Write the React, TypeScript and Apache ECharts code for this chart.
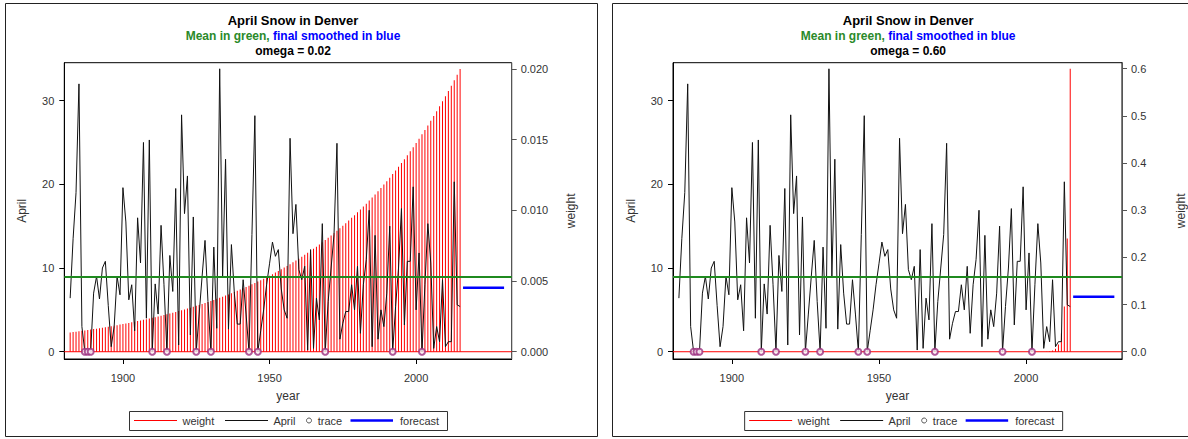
import React, { useEffect, useRef } from "react";
import * as echarts from "echarts";

// ---------- data ----------
const START_YEAR = 1882;

// April snowfall (inches), 1882 .. 2015
const april = [
  // 1882-1889
  6.4, 13.5, 19.0, 32.0, 3.0, 0, 0, 0,
  // 1890s
  7.0, 9.0, 6.3, 10.0, 10.8, 5.5, 0.6, 3.0, 9.0, 6.8,
  // 1900s
  19.6, 15.5, 6.2, 8.0, 2.5, 16.0, 10.6, 25.0, 4.0, 25.3,
  // 1910s
  0, 8.1, 4.5, 15.1, 8.0, 0, 11.5, 7.2, 19.5, 0.8,
  // 1920s
  28.3, 16.5, 21.0, 2.0, 16.1, 0, 4.5, 9.0, 13.3, 6.0,
  // 1930s
  0, 12.5, 2.8, 33.8, 9.0, 23.0, 2.7, 12.8, 7.0, 3.3,
  // 1940s
  3.3, 8.6, 4.5, 0, 14.0, 28.2, 0, 2.5, 5.0, 8.0,
  // 1950s
  10.5, 13.1, 11.4, 12.2, 7.5, 5.0, 4.0, 25.5, 14.1, 17.6,
  // 1960s
  9.8, 8.6, 10.2, 0.2, 12.2, 0.4, 6.4, 3.8, 15.3, 0,
  // 1970s
  6.0, 10.0, 14.0, 24.9, 1.5, 3.4, 4.8, 4.8, 8.0, 5.0,
  // 1980s
  10.2, 2.2, 8.0, 11.0, 16.9, 0.6, 13.9, 1.5, 5.0, 3.0,
  // 1990s
  7.0, 15.0, 0, 5.4, 10.0, 17.1, 3.2, 10.8, 10.8, 19.7,
  // 2000s
  5.0, 11.8, 0, 8.0, 15.3, 10.6, 0.4, 3.0, 1.2, 8.6,
  // 2010-2015
  0.6, 1.2, 1.2, 20.3, 5.6, 5.4,
];

// years with zero snowfall (trace markers)
const traceYears = [1887, 1888, 1889, 1910, 1915, 1925, 1930, 1943, 1946, 1969, 1992, 2002];

// weights for omega = 0.02, 1882 .. 2015
const weights002 = [
  0.001362, 0.00139, 0.001418, 0.001447, 0.001476, 0.001506, 0.001537, 0.001569, 0.001601, 0.001633,
  0.001667, 0.001701, 0.001735, 0.001771, 0.001807, 0.001844, 0.001881, 0.00192, 0.001959, 0.001999,
  0.00204, 0.002081, 0.002124, 0.002167, 0.002212, 0.002257, 0.002303, 0.00235, 0.002398, 0.002447,
  0.002497, 0.002547, 0.002599, 0.002652, 0.002707, 0.002762, 0.002818, 0.002876, 0.002935, 0.002995,
  0.003056, 0.003118, 0.003182, 0.003247, 0.003313, 0.00338, 0.003449, 0.00352, 0.003592, 0.003665,
  0.00374, 0.003816, 0.003894, 0.003973, 0.004054, 0.004137, 0.004222, 0.004308, 0.004396, 0.004485,
  0.004577, 0.00467, 0.004766, 0.004863, 0.004962, 0.005063, 0.005167, 0.005272, 0.00538, 0.005489,
  0.005601, 0.005716, 0.005832, 0.005951, 0.006073, 0.006197, 0.006323, 0.006452, 0.006584, 0.006718,
  0.006855, 0.006995, 0.007138, 0.007284, 0.007432, 0.007584, 0.007739, 0.007897, 0.008058, 0.008223,
  0.00839, 0.008562, 0.008736, 0.008914, 0.009096, 0.009282, 0.009471, 0.009665, 0.009862, 0.010063,
  0.010268, 0.010478, 0.010692, 0.01091, 0.011133, 0.01136, 0.011591, 0.011828, 0.012069, 0.012316,
  0.012567, 0.012823, 0.013085, 0.013352, 0.013625, 0.013903, 0.014186, 0.014476, 0.014771, 0.015073,
  0.01538, 0.015694, 0.016015, 0.016341, 0.016675, 0.017015, 0.017363, 0.017717, 0.018078, 0.018447,
  0.018824, 0.019208, 0.0196, 0.02,
];

// weights for omega = 0.60 (only the visible, non-negligible ones)
const weights060Years = [2006, 2007, 2008, 2009, 2010, 2011, 2012, 2013, 2014, 2015];
const weights060 = [0.00016, 0.00039, 0.00098, 0.00246, 0.00614, 0.01536, 0.0384, 0.096, 0.24, 0.6];

const meanApril = 8.9;
const forecastYears = [2016, 2030];
const forecast002 = 7.65;
const forecast060 = 6.57;

const xTicks = [1900, 1950, 2000];
const yTicks = [0, 10, 20, 30];
const wTicks002 = [0, 0.005, 0.01, 0.015, 0.02];
const wTicks060 = [0, 0.1, 0.2, 0.3, 0.4, 0.5, 0.6];

// ---------- layout ----------
const FONT = '"Liberation Sans", Arial, Helvetica, sans-serif';
const GRID_TOP = 62.7;
const GRID_H = 296.3;
const X_MIN = 1880;
const X_MAX = 2032.6;
const Y_MIN = -0.87;
const Y_MAX = 34.53;

const panels = [
  {
    left: 64.3,
    width: 447.4,
    omega: "0.02",
    wYears: april.map((_, i) => START_YEAR + i),
    wVals: weights002,
    wMin: -0.000515,
    wMax: 0.02045,
    wTicks: wTicks002,
    wDigits: 3,
    forecast: forecast002,
    border: { x: 5.5, y: 3.5, w: 592, h: 433 },
  },
  {
    left: 673,
    width: 460.3,
    omega: "0.60",
    wYears: weights060Years,
    wVals: weights060,
    wMin: -0.0154,
    wMax: 0.6127,
    wTicks: wTicks060,
    wDigits: 1,
    forecast: forecast060,
    border: { x: 612.5, y: 3.5, w: 620, h: 433 },
  },
];

function buildOption() {
  const grid: any[] = [];
  const xAxis: any[] = [];
  const yAxis: any[] = [];
  const series: any[] = [];
  const title: any[] = [];
  const graphic: any[] = [];
  const labelColor = "#333";

  panels.forEach((p, pi) => {
    const cx = p.left + p.width / 2;
    grid.push({
      left: p.left,
      top: GRID_TOP,
      width: p.width,
      height: GRID_H,
      show: true,
      borderColor: "#000",
      borderWidth: 1,
      backgroundColor: "transparent",
    });
    xAxis.push({
      gridIndex: pi,
      type: "value",
      min: X_MIN,
      max: X_MAX,
      name: "year",
      nameLocation: "middle",
      nameGap: 31,
      nameTextStyle: { fontFamily: FONT, fontSize: 12, color: labelColor },
      axisLine: { show: true, onZero: false, lineStyle: { color: "#000", width: 1 } },
      axisTick: { show: true, length: 5, inside: false, customValues: xTicks, lineStyle: { color: "#000" } },
      axisLabel: {
        customValues: xTicks,
        margin: 13,
        fontFamily: FONT,
        fontSize: 11,
        color: labelColor,
        formatter: (v: number) => String(Math.round(v)),
      },
      splitLine: { show: false },
    });
    yAxis.push({
      gridIndex: pi,
      type: "value",
      position: "left",
      min: Y_MIN,
      max: Y_MAX,
      name: "April",
      nameLocation: "middle",
      nameRotate: 90,
      nameGap: 36,
      nameTextStyle: { fontFamily: FONT, fontSize: 12, color: labelColor },
      axisLine: { show: true, onZero: false, lineStyle: { color: "#000", width: 1 } },
      axisTick: { show: true, length: 5, customValues: yTicks, lineStyle: { color: "#000" } },
      axisLabel: { customValues: yTicks, margin: 10, fontFamily: FONT, fontSize: 11, color: labelColor },
      splitLine: { show: false },
    });
    yAxis.push({
      gridIndex: pi,
      type: "value",
      position: "right",
      min: p.wMin,
      max: p.wMax,
      name: "weight",
      nameLocation: "middle",
      nameRotate: 90,
      nameGap: 53,
      nameTextStyle: { fontFamily: FONT, fontSize: 12, color: labelColor },
      axisLine: { show: true, onZero: false, lineStyle: { color: "#555", width: 1 } },
      axisTick: { show: true, length: 5, customValues: p.wTicks, lineStyle: { color: "#555" } },
      axisLabel: {
        customValues: p.wTicks,
        margin: 9,
        fontFamily: FONT,
        fontSize: 11,
        color: labelColor,
        formatter: (v: number) => v.toFixed(p.wDigits),
      },
      splitLine: { show: false },
    });

    const yLeft = pi * 2;
    const yRight = pi * 2 + 1;

    series.push({
      name: "weight",
      type: "bar",
      xAxisIndex: pi,
      yAxisIndex: yRight,
      barWidth: 1,
      itemStyle: { color: "#ff0000" },
      data: p.wVals.map((w, i) => [p.wYears[i], w]),
      z: 1,
    });
    // zero reference line of the weight needles
    series.push({
      name: "weight-base",
      type: "line",
      xAxisIndex: pi,
      yAxisIndex: yRight,
      symbol: "none",
      silent: true,
      lineStyle: { color: "#ff0000", width: 1 },
      data: [
        [X_MIN, 0],
        [X_MAX, 0],
      ],
      z: 2,
    });
    series.push({
      name: "April",
      type: "line",
      xAxisIndex: pi,
      yAxisIndex: yLeft,
      symbol: "none",
      lineStyle: { color: "#111", width: 1 },
      data: april.map((v, i) => [START_YEAR + i, v]),
      markLine: {
        silent: true,
        symbol: "none",
        label: { show: false },
        lineStyle: { color: "#1f8a1f", width: 2, type: "solid" },
        data: [{ yAxis: meanApril }],
      },
      z: 3,
    });
    series.push({
      name: "trace",
      type: "scatter",
      xAxisIndex: pi,
      yAxisIndex: yLeft,
      symbol: "emptyCircle",
      symbolSize: 6,
      itemStyle: { color: "#9b2f80", borderColor: "#9b2f80", borderWidth: 1 },
      data: traceYears.map((y) => [y, 0]),
      z: 4,
    });
    series.push({
      name: "forecast",
      type: "line",
      xAxisIndex: pi,
      yAxisIndex: yLeft,
      symbol: "none",
      lineStyle: { color: "#0000ff", width: 2.5 },
      data: forecastYears.map((y) => [y, p.forecast]),
      z: 4,
    });

    // titles
    title.push({
      text: "April Snow in Denver",
      left: cx,
      top: 9,
      textAlign: "center",
      textStyle: { fontFamily: FONT, fontSize: 13, fontWeight: "bold", color: "#000" },
    });
    title.push({
      text: "{g|Mean in green,} {b|final smoothed in blue}",
      left: cx,
      top: 25,
      textAlign: "center",
      textStyle: {
        fontFamily: FONT,
        fontSize: 12,
        fontWeight: "bold",
        rich: {
          g: { fontFamily: FONT, fontSize: 12, fontWeight: "bold", color: "#2a8a2a" },
          b: { fontFamily: FONT, fontSize: 12, fontWeight: "bold", color: "#0000ff" },
        },
      },
    });
    title.push({
      text: "omega = " + p.omega,
      left: cx,
      top: 40,
      textAlign: "center",
      textStyle: { fontFamily: FONT, fontSize: 12, fontWeight: "bold", color: "#000" },
    });

    // panel frame
    graphic.push({
      type: "rect",
      shape: { x: p.border.x, y: p.border.y, width: p.border.w, height: p.border.h },
      style: { fill: "none", stroke: "#222", lineWidth: 1 },
      silent: true,
      z: -10,
    });

    // legend (drawn)
    const ly = 420.5;
    const lx = cx;
    const txt = (x: number, s: string) => ({
      type: "text",
      x: lx + x,
      y: ly,
      style: {
        text: s,
        fontFamily: FONT,
        fontSize: 11,
        fill: labelColor,
        textVerticalAlign: "middle",
        verticalAlign: "middle",
      },
      silent: true,
    });
    const seg = (x1: number, x2: number, color: string, w: number) => ({
      type: "line",
      shape: { x1: lx + x1, y1: ly, x2: lx + x2, y2: ly },
      style: { stroke: color, lineWidth: w },
      silent: true,
    });
    graphic.push({
      type: "rect",
      shape: { x: lx - 158.5, y: 411.5, width: 318, height: 19 },
      style: { fill: "#fff", stroke: "#333", lineWidth: 1 },
      silent: true,
    });
    graphic.push(seg(-154, -111, "#ff0000", 1));
    graphic.push(txt(-105.5, "weight"));
    graphic.push(seg(-63, -20, "#111", 1));
    graphic.push(txt(-14.6, "April"));
    graphic.push({
      type: "circle",
      shape: { cx: lx + 21, cy: ly, r: 2.5 },
      style: { fill: "none", stroke: "#555", lineWidth: 1 },
      silent: true,
    });
    graphic.push(txt(29.7, "trace"));
    graphic.push(seg(62.5, 105, "#0000ff", 2.5));
    graphic.push(txt(112, "forecast"));
  });

  return {
    animation: false,
    backgroundColor: "#fff",
    textStyle: { fontFamily: FONT },
    title,
    grid,
    xAxis,
    yAxis,
    series,
    graphic,
  };
}

export default function App() {
  const ref = useRef<HTMLDivElement>(null);
  useEffect(() => {
    if (!ref.current) return;
    const chart = echarts.init(ref.current, undefined, { renderer: "svg" });
    chart.setOption(buildOption() as any);
    return () => chart.dispose();
  }, []);
  return (
    <div
      ref={ref}
      style={{ position: "absolute", left: 0, top: 0, width: 1188, height: 439, background: "#fff" }}
    />
  );
}
